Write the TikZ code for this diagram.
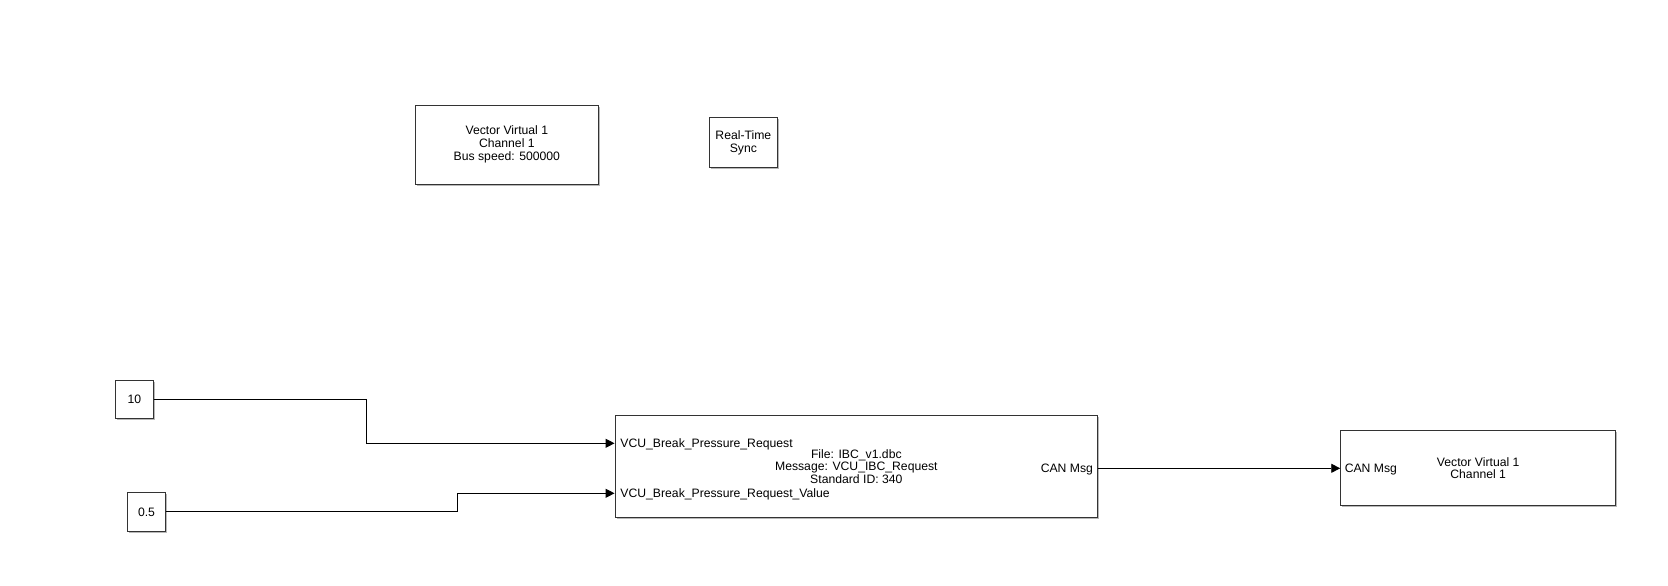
\documentclass[tikz,border=0pt]{standalone}
\usepackage{fontspec}
\setmainfont{Liberation Sans}
\usetikzlibrary{arrows.meta,shadows}

\begin{document}
\begin{tikzpicture}[x=1pt,y=-1pt,line join=miter,
  blk/.style={draw=black!80,fill=white,line width=.9pt,inner sep=0pt,align=center,
    font=\fontsize{12.2}{12.8}\selectfont,
    drop shadow={shadow xshift=1.6pt,shadow yshift=-1.6pt,fill=black,opacity=.28}},
  sig/.style={draw=black,line width=.9pt,-{Triangle[length=9pt,width=9pt]}},
  port/.style={font=\fontsize{12.2}{12.8}\selectfont,inner sep=0pt,text height=8.8pt,text depth=0pt}]
\useasboundingbox (0,0) rectangle (1668,586);
% Kanal und Echtzeit-Sync oben.
\node[blk,minimum width=182.3pt,minimum height=79pt] (cfg) at (506.85,144.5) {Vector Virtual 1\\Channel 1\\Bus speed: 500000};
\node[blk,minimum width=68.7pt,minimum height=50pt] (sync) at (743.35,142.7) {Real-Time\\Sync};
% Konstanten, Pack-Block und Sender.
\node[blk,minimum width=38pt,minimum height=38.3pt] (c10) at (134.3,399.2) {10};
\node[blk,minimum width=38.4pt,minimum height=38.3pt] (c05) at (146.5,511.9) {0.5};
\node[blk,minimum width=482.7pt,minimum height=101.6pt] (pack) at (856.35,466.5) {File: IBC\_v1.dbc\\Message: VCU\_IBC\_Request\\Standard ID: 340};
\node[blk,minimum width=275pt,minimum height=75pt] (tx) at (1478.2,468.2) {Vector Virtual 1\\Channel 1};
\coordinate (in1) at ([yshift=23.2pt]pack.west);
\coordinate (in2) at ([yshift=-26.8pt]pack.west);
\coordinate (out) at ([yshift=-1.8pt]pack.east);
\node[port,anchor=west] (lin1) at ([xshift=5.7pt]in1) {VCU\_Break\_Pressure\_Request};
\node[port,anchor=west] (lin2) at ([xshift=5.7pt]in2) {VCU\_Break\_Pressure\_Request\_Value};
\node[port,anchor=east] (lout) at ([xshift=-5pt]out) {CAN Msg};
\node[port,anchor=west] (ltx) at ([xshift=4.3pt]tx.west |- out) {CAN Msg};
% Signale.
\draw[sig] (c10.east) -- ++(212.4,0) |- (in1);
\draw[sig] (c05.east) -- ++(291,0) |- (in2);
\draw[sig] (out) -- (out -| tx.west);
\end{tikzpicture}
\end{document}
